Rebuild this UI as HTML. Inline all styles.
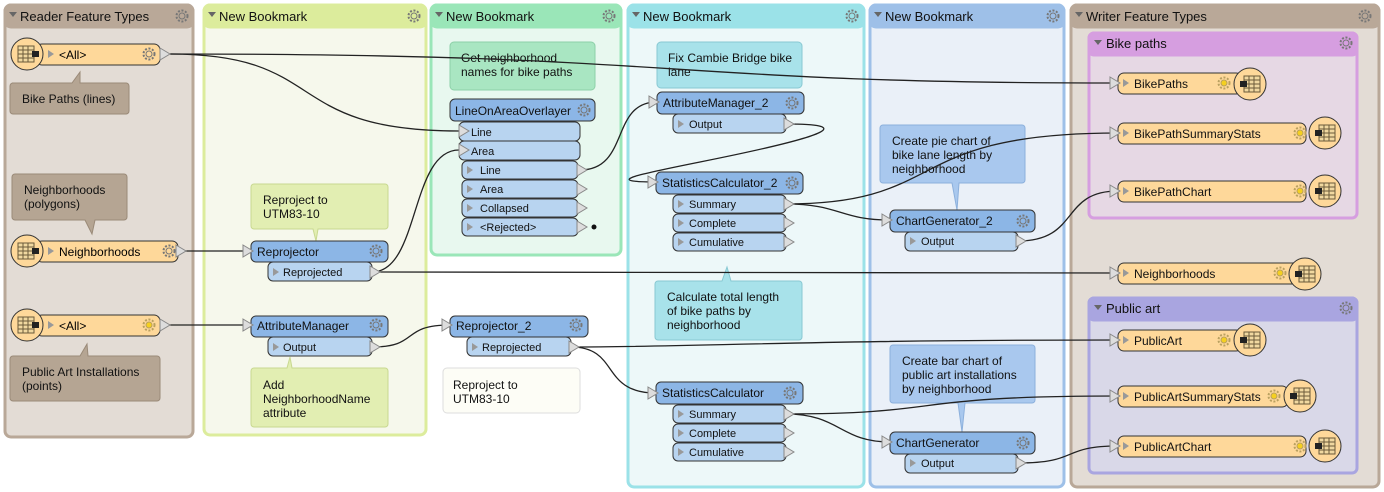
<!DOCTYPE html>
<html><head><meta charset="utf-8"><style>
html,body{margin:0;padding:0;background:#fff;}
svg{display:block;font-family:"Liberation Sans",sans-serif;font-size:12px;}
</style></head><body>
<svg width="1384" height="492" viewBox="0 0 1384 492" xmlns="http://www.w3.org/2000/svg">
<defs>
<g id="gear"><circle r="5.5" fill="none" stroke="#777" stroke-width="2" stroke-dasharray="2 1.6"/><circle r="3" fill="none" stroke="#777" stroke-width="1"/></g>
<g id="gearY"><circle r="5.5" fill="none" stroke="#b9a060" stroke-width="2" stroke-dasharray="2 1.6"/><circle r="3" fill="#f5d020" stroke="#b9a060" stroke-width="1"/></g>
<g id="tbl"><rect x="-8" y="-8" width="16" height="16" fill="#f0d8a0" stroke="#6b5a3a"/><path d="M-8,-4H8M-8,0H8M-8,4H8M-3,-8V8M2,-8V8" stroke="#6b5a3a" stroke-width="1"/></g>
<polygon id="tri" points="0,-6 10,0 0,6" fill="#ddd" stroke="#888"/>
<polygon id="stri" points="0,-4 6,0 0,4" fill="#999"/>
</defs>

<!-- Panels -->
<g stroke-width="3">
<rect x="5" y="5" width="188" height="432" rx="6" fill="#e3dcd5" stroke="#b9a898"/>
<rect x="5" y="5" width="188" height="22" rx="6" fill="#b9a898" stroke="#b9a898"/>
<rect x="204" y="5" width="222" height="430" rx="6" fill="#f6f8ec" stroke="#dcec9c"/>
<rect x="204" y="5" width="222" height="22" rx="6" fill="#dcec9c" stroke="#dcec9c"/>
<rect x="431" y="5" width="190" height="250" rx="6" fill="#e8f8ef" stroke="#9ae6b8"/>
<rect x="431" y="5" width="190" height="22" rx="6" fill="#9ae6b8" stroke="#9ae6b8"/>
<rect x="628" y="5" width="236" height="482" rx="6" fill="#edf8f9" stroke="#9be2e8"/>
<rect x="628" y="5" width="236" height="22" rx="6" fill="#9be2e8" stroke="#9be2e8"/>
<rect x="870" y="5" width="194" height="482" rx="6" fill="#eaf0f8" stroke="#9ec0e8"/>
<rect x="870" y="5" width="194" height="22" rx="6" fill="#9ec0e8" stroke="#9ec0e8"/>
<rect x="1071" y="5" width="308" height="482" rx="6" fill="#e3dcd5" stroke="#b9a898"/>
<rect x="1071" y="5" width="308" height="22" rx="6" fill="#b9a898" stroke="#b9a898"/>
<rect x="1089" y="33" width="268" height="185" rx="5" fill="#e6d8e4" stroke="#d69ee0"/>
<rect x="1089" y="33" width="268" height="22" rx="5" fill="#d69ee0" stroke="#d69ee0"/>
<rect x="1089" y="298" width="268" height="175" rx="5" fill="#d9d8e8" stroke="#a9a5e0"/>
<rect x="1089" y="298" width="268" height="22" rx="5" fill="#a9a5e0" stroke="#a9a5e0"/>
</g>
<g font-size="13" fill="#111">
<text x="20" y="21">Reader Feature Types</text>
<text x="219" y="21">New Bookmark</text>
<text x="446" y="21">New Bookmark</text>
<text x="643" y="21">New Bookmark</text>
<text x="885" y="21">New Bookmark</text>
<text x="1086" y="21">Writer Feature Types</text>
<text x="1106" y="48">Bike paths</text>
<text x="1106" y="313">Public art</text>
</g>
<g fill="#666">
<polygon points="9,12 17,12 13,17"/><polygon points="208,12 216,12 212,17"/><polygon points="435,12 443,12 439,17"/>
<polygon points="632,12 640,12 636,17"/><polygon points="874,12 882,12 878,17"/><polygon points="1075,12 1083,12 1079,17"/>
<polygon points="1094,40 1102,40 1098,45"/><polygon points="1094,305 1102,305 1098,310"/>
</g>
<use href="#gear" x="182" y="16"/><use href="#gear" x="414" y="16"/><use href="#gear" x="609" y="16"/>
<use href="#gear" x="852" y="16"/><use href="#gear" x="1053" y="16"/><use href="#gear" x="1365" y="16"/>
<use href="#gear" x="1346" y="43"/><use href="#gear" x="1346" y="308"/>

<!-- Annotations -->
<g font-size="12" fill="#111">
<path d="M12,83H72L80,72L80,83H126a3,3 0 0 1 3,3V111a3,3 0 0 1 -3,3H13a3,3 0 0 1 -3,-3V86a3,3 0 0 1 3,-3Z" fill="#b5a593" stroke="#9a8a78"/>
<text x="22" y="103">Bike Paths (lines)</text>
<path d="M15,174H124a3,3 0 0 1 3,3V217a3,3 0 0 1 -3,3H95L92,234L85,220H15a3,3 0 0 1 -3,-3V177a3,3 0 0 1 3,-3Z" fill="#b5a593" stroke="#9a8a78"/>
<text x="24" y="194">Neighborhoods</text><text x="24" y="208">(polygons)</text>
<path d="M13,356H80L87,344L88,356H157a3,3 0 0 1 3,3V398a3,3 0 0 1 -3,3H13a3,3 0 0 1 -3,-3V359a3,3 0 0 1 3,-3Z" fill="#b5a593" stroke="#9a8a78"/>
<text x="22" y="376">Public Art Installations</text><text x="22" y="390">(points)</text>

<path d="M254,184H385a3,3 0 0 1 3,3V226a3,3 0 0 1 -3,3H318L316,241L313,229H254a3,3 0 0 1 -3,-3V187a3,3 0 0 1 3,-3Z" fill="#e2eeb2" stroke="#c8d890"/>
<text x="263" y="204">Reproject to</text><text x="263" y="218">UTM83-10</text>
<path d="M254,368H287L290,357L292,368H385a3,3 0 0 1 3,3V424a3,3 0 0 1 -3,3H254a3,3 0 0 1 -3,-3V371a3,3 0 0 1 3,-3Z" fill="#e2eeb2" stroke="#c8d890"/>
<text x="263" y="389">Add</text><text x="263" y="403">NeighborhoodName</text><text x="263" y="417">attribute</text>

<rect x="450" y="42" width="145" height="48" rx="4" fill="#a9e6c2" stroke="#8dd0a8"/>
<text x="461" y="62">Get neighborhood</text><text x="461" y="76">names for bike paths</text>
<rect x="443" y="368" width="137" height="45" rx="4" fill="#fdfdf6" stroke="#ddd"/>
<text x="453" y="389">Reproject to</text><text x="453" y="403">UTM83-10</text>

<rect x="657" y="42" width="145" height="46" rx="4" fill="#a8e2ea" stroke="#88c8d2"/>
<text x="668" y="62">Fix Cambie Bridge bike</text><text x="668" y="76">lane</text>
<path d="M658,281H722L727,267L731,281H799a3,3 0 0 1 3,3V337a3,3 0 0 1 -3,3H658a3,3 0 0 1 -3,-3V284a3,3 0 0 1 3,-3Z" fill="#a8e2ea" stroke="#88c8d2"/>
<text x="667" y="301">Calculate total length</text><text x="667" y="315">of bike paths by</text><text x="667" y="329">neighborhood</text>

<path d="M883,125H1022a3,3 0 0 1 3,3V180a3,3 0 0 1 -3,3H959L957,210L952,183H883a3,3 0 0 1 -3,-3V128a3,3 0 0 1 3,-3Z" fill="#a9c8ee" stroke="#8cb0dc"/>
<text x="892" y="145">Create pie chart of</text><text x="892" y="159">bike lane length by</text><text x="892" y="173">neighborhood</text>
<path d="M893,345H1032a3,3 0 0 1 3,3V400a3,3 0 0 1 -3,3H965L962,432L958,403H893a3,3 0 0 1 -3,-3V348a3,3 0 0 1 3,-3Z" fill="#a9c8ee" stroke="#8cb0dc"/>
<text x="902" y="365">Create bar chart of</text><text x="902" y="379">public art installations</text><text x="902" y="393">by neighborhood</text>
</g>

<!-- Connectors -->
<g fill="none" stroke="#222" stroke-width="1.3">
<path d="M170,54 C700,54 650,83 1118,83"/>
<path d="M170,54 C330,54 280,131 459,131"/>
<path d="M180,251 H251"/>
<path d="M372,272 C420,272 410,150 459,150"/>
<path d="M372,272 L1118,273"/>
<path d="M165,325 H251"/>
<path d="M372,347 C420,347 400,325 450,325"/>
<path d="M580,170 C630,170 610,102 657,102"/>
<path d="M786,124 C850,124 840,134 700,162 C640,174 600,182 656,182"/>
<path d="M786,204 C840,204 840,220 890,220"/>
<path d="M786,204 C950,204 900,133 1118,133"/>
<path d="M1018,241 C1080,241 1060,191 1118,191"/>
<path d="M571,347 C700,347 800,340 1118,340"/>
<path d="M571,347 C620,347 600,393 656,393"/>
<path d="M786,414 C840,414 840,442 890,442"/>
<path d="M786,414 C950,414 900,396 1118,396"/>
<path d="M1018,463 C1080,463 1060,446 1118,446"/>
</g>
<circle cx="594" cy="227" r="2.5" fill="#111"/>

<!-- Reader features -->
<g>
<rect x="36" y="44" width="124" height="21" rx="6" fill="#fed89a" stroke="#333"/>
<use href="#tri" x="160" y="54"/><use href="#stri" x="48" y="54"/>
<text x="59" y="59">&lt;All&gt;</text><use href="#gear" x="149" y="54"/>
<circle cx="27" cy="54" r="16" fill="#fed89a" stroke="#333"/><use href="#tbl" x="26" y="54"/><rect x="32" y="51" width="7" height="6" fill="#222"/>

<rect x="36" y="241" width="142" height="21" rx="6" fill="#fed89a" stroke="#333"/>
<use href="#tri" x="176" y="251"/><use href="#stri" x="48" y="251"/>
<text x="59" y="256">Neighborhoods</text><use href="#gear" x="169" y="251"/>
<circle cx="27" cy="251" r="16" fill="#fed89a" stroke="#333"/><use href="#tbl" x="26" y="251"/><rect x="32" y="248" width="7" height="6" fill="#222"/>

<rect x="36" y="315" width="124" height="21" rx="6" fill="#fed89a" stroke="#333"/>
<use href="#tri" x="160" y="325"/><use href="#stri" x="48" y="325"/>
<text x="59" y="330">&lt;All&gt;</text><use href="#gearY" x="149" y="325"/>
<circle cx="27" cy="325" r="16" fill="#fed89a" stroke="#333"/><use href="#tbl" x="26" y="325"/><rect x="32" y="322" width="7" height="6" fill="#222"/>
</g>

<!-- Transformers -->
<g font-size="12" fill="#111">
<!-- Reprojector -->
<rect x="268" y="262" width="104" height="19" rx="5" fill="#b8d4f0" stroke="#333"/>
<use href="#stri" x="273" y="272"/><text x="283" y="276" font-size="11">Reprojected</text><use href="#tri" x="370" y="272"/>
<rect x="251" y="241" width="137" height="21" rx="5" fill="#8cb6e6" stroke="#333"/>
<use href="#tri" x="243" y="251"/><text x="257" y="256">Reprojector</text><use href="#gear" x="376" y="251"/>
<!-- AttributeManager -->
<rect x="268" y="337" width="104" height="19" rx="5" fill="#b8d4f0" stroke="#333"/>
<use href="#stri" x="273" y="347"/><text x="283" y="351" font-size="11">Output</text><use href="#tri" x="370" y="347"/>
<rect x="251" y="316" width="137" height="21" rx="5" fill="#8cb6e6" stroke="#333"/>
<use href="#tri" x="243" y="325"/><text x="257" y="330">AttributeManager</text><use href="#gear" x="376" y="325"/>
<!-- Reprojector_2 -->
<rect x="467" y="337" width="104" height="19" rx="5" fill="#b8d4f0" stroke="#333"/>
<use href="#stri" x="472" y="347"/><text x="482" y="351" font-size="11">Reprojected</text><use href="#tri" x="569" y="347"/>
<rect x="450" y="316" width="138" height="21" rx="5" fill="#8cb6e6" stroke="#333"/>
<use href="#tri" x="442" y="325"/><text x="456" y="330">Reprojector_2</text><use href="#gear" x="576" y="325"/>
<!-- LineOnAreaOverlayer -->
<rect x="459" y="122" width="121" height="19" rx="5" fill="#b8d4f0" stroke="#333"/>
<use href="#tri" x="459" y="131"/><text x="471" y="136" font-size="11">Line</text>
<rect x="459" y="141" width="121" height="19" rx="5" fill="#b8d4f0" stroke="#333"/>
<use href="#tri" x="459" y="150"/><text x="471" y="155" font-size="11">Area</text>
<g font-size="11">
<rect x="462" y="161" width="116" height="18" rx="5" fill="#b8d4f0" stroke="#333"/><use href="#stri" x="467" y="170"/><text x="480" y="174">Line</text><use href="#tri" x="577" y="170"/>
<rect x="462" y="180" width="116" height="18" rx="5" fill="#b8d4f0" stroke="#333"/><use href="#stri" x="467" y="189"/><text x="480" y="193">Area</text><use href="#tri" x="577" y="189"/>
<rect x="462" y="199" width="116" height="18" rx="5" fill="#b8d4f0" stroke="#333"/><use href="#stri" x="467" y="208"/><text x="480" y="212">Collapsed</text><use href="#tri" x="577" y="208"/>
<rect x="462" y="218" width="116" height="18" rx="5" fill="#b8d4f0" stroke="#333"/><use href="#stri" x="467" y="227"/><text x="480" y="231">&lt;Rejected&gt;</text><use href="#tri" x="577" y="227"/>
</g>
<rect x="450" y="99" width="145" height="22" rx="5" fill="#8cb6e6" stroke="#333"/>
<text x="455" y="115">LineOnAreaOverlayer</text><use href="#gear" x="584" y="110"/>
<!-- AttributeManager_2 -->
<rect x="673" y="114" width="113" height="19" rx="5" fill="#b8d4f0" stroke="#333"/>
<use href="#stri" x="678" y="124"/><text x="689" y="128" font-size="11">Output</text><use href="#tri" x="784" y="124"/>
<rect x="657" y="92" width="147" height="22" rx="5" fill="#8cb6e6" stroke="#333"/>
<use href="#tri" x="649" y="102"/><text x="663" y="107">AttributeManager_2</text><use href="#gear" x="792" y="103"/>
<!-- StatisticsCalculator_2 -->
<g font-size="11">
<rect x="673" y="195" width="113" height="18" rx="5" fill="#b8d4f0" stroke="#333"/><use href="#stri" x="678" y="204"/><text x="689" y="208">Summary</text><use href="#tri" x="784" y="204"/>
<rect x="673" y="214" width="113" height="18" rx="5" fill="#b8d4f0" stroke="#333"/><use href="#stri" x="678" y="223"/><text x="689" y="227">Complete</text><use href="#tri" x="784" y="223"/>
<rect x="673" y="233" width="113" height="18" rx="5" fill="#b8d4f0" stroke="#333"/><use href="#stri" x="678" y="242"/><text x="689" y="246">Cumulative</text><use href="#tri" x="784" y="242"/>
</g>
<rect x="656" y="172" width="147" height="22" rx="5" fill="#8cb6e6" stroke="#333"/>
<use href="#tri" x="648" y="182"/><text x="662" y="187">StatisticsCalculator_2</text><use href="#gear" x="792" y="183"/>
<!-- StatisticsCalculator -->
<g font-size="11">
<rect x="673" y="405" width="113" height="18" rx="5" fill="#b8d4f0" stroke="#333"/><use href="#stri" x="678" y="414"/><text x="689" y="418">Summary</text><use href="#tri" x="784" y="414"/>
<rect x="673" y="424" width="113" height="18" rx="5" fill="#b8d4f0" stroke="#333"/><use href="#stri" x="678" y="433"/><text x="689" y="437">Complete</text><use href="#tri" x="784" y="433"/>
<rect x="673" y="443" width="113" height="18" rx="5" fill="#b8d4f0" stroke="#333"/><use href="#stri" x="678" y="452"/><text x="689" y="456">Cumulative</text><use href="#tri" x="784" y="452"/>
</g>
<rect x="656" y="382" width="147" height="22" rx="5" fill="#8cb6e6" stroke="#333"/>
<use href="#tri" x="648" y="393"/><text x="662" y="397">StatisticsCalculator</text><use href="#gear" x="790" y="393"/>
<!-- ChartGenerator_2 -->
<rect x="905" y="232" width="113" height="19" rx="5" fill="#b8d4f0" stroke="#333"/>
<use href="#stri" x="910" y="241"/><text x="921" y="245" font-size="11">Output</text><use href="#tri" x="1016" y="241"/>
<rect x="890" y="210" width="145" height="22" rx="5" fill="#8cb6e6" stroke="#333"/>
<use href="#tri" x="882" y="220"/><text x="896" y="225">ChartGenerator_2</text><use href="#gear" x="1023" y="221"/>
<!-- ChartGenerator -->
<rect x="905" y="454" width="113" height="19" rx="5" fill="#b8d4f0" stroke="#333"/>
<use href="#stri" x="910" y="463"/><text x="921" y="467" font-size="11">Output</text><use href="#tri" x="1016" y="463"/>
<rect x="890" y="432" width="145" height="22" rx="5" fill="#8cb6e6" stroke="#333"/>
<use href="#tri" x="882" y="442"/><text x="896" y="447">ChartGenerator</text><use href="#gear" x="1023" y="443"/>
</g>

<!-- Writer features -->
<g fill="#111">
<rect x="1118" y="73" width="124" height="21" rx="6" fill="#fed89a" stroke="#333"/><use href="#tri" x="1110" y="83"/><use href="#stri" x="1123" y="83"/>
<text x="1134" y="88">BikePaths</text><use href="#gearY" x="1224" y="83"/>
<circle cx="1250" cy="84" r="16" fill="#fed89a" stroke="#333"/><use href="#tbl" x="1252" y="84"/><rect x="1240" y="81" width="7" height="6" fill="#222"/>

<rect x="1118" y="123" width="188" height="21" rx="6" fill="#fed89a" stroke="#333"/><use href="#tri" x="1110" y="133"/><use href="#stri" x="1123" y="133"/>
<text x="1134" y="138">BikePathSummaryStats</text><use href="#gearY" x="1300" y="133"/>
<circle cx="1325" cy="133" r="16" fill="#fed89a" stroke="#333"/><use href="#tbl" x="1327" y="133"/><rect x="1315" y="130" width="7" height="6" fill="#222"/>

<rect x="1118" y="181" width="188" height="21" rx="6" fill="#fed89a" stroke="#333"/><use href="#tri" x="1110" y="191"/><use href="#stri" x="1123" y="191"/>
<text x="1134" y="196">BikePathChart</text><use href="#gearY" x="1300" y="191"/>
<circle cx="1325" cy="191" r="16" fill="#fed89a" stroke="#333"/><use href="#tbl" x="1327" y="191"/><rect x="1315" y="188" width="7" height="6" fill="#222"/>

<rect x="1118" y="263" width="185" height="21" rx="6" fill="#fed89a" stroke="#333"/><use href="#tri" x="1110" y="273"/><use href="#stri" x="1123" y="273"/>
<text x="1134" y="278">Neighborhoods</text><use href="#gearY" x="1280" y="273"/>
<circle cx="1305" cy="274" r="16" fill="#fed89a" stroke="#333"/><use href="#tbl" x="1307" y="274"/><rect x="1295" y="271" width="7" height="6" fill="#222"/>

<rect x="1118" y="330" width="124" height="21" rx="6" fill="#fed89a" stroke="#333"/><use href="#tri" x="1110" y="340"/><use href="#stri" x="1123" y="340"/>
<text x="1134" y="345">PublicArt</text><use href="#gearY" x="1224" y="340"/>
<circle cx="1250" cy="340" r="16" fill="#fed89a" stroke="#333"/><use href="#tbl" x="1252" y="340"/><rect x="1240" y="337" width="7" height="6" fill="#222"/>

<rect x="1118" y="386" width="170" height="21" rx="6" fill="#fed89a" stroke="#333"/><use href="#tri" x="1110" y="396"/><use href="#stri" x="1123" y="396"/>
<text x="1134" y="401">PublicArtSummaryStats</text><use href="#gearY" x="1274" y="396"/>
<circle cx="1300" cy="396" r="16" fill="#fed89a" stroke="#333"/><use href="#tbl" x="1302" y="396"/><rect x="1290" y="393" width="7" height="6" fill="#222"/>

<rect x="1118" y="436" width="188" height="21" rx="6" fill="#fed89a" stroke="#333"/><use href="#tri" x="1110" y="446"/><use href="#stri" x="1123" y="446"/>
<text x="1134" y="451">PublicArtChart</text><use href="#gearY" x="1300" y="446"/>
<circle cx="1325" cy="446" r="16" fill="#fed89a" stroke="#333"/><use href="#tbl" x="1327" y="446"/><rect x="1315" y="443" width="7" height="6" fill="#222"/>
</g>
</svg>
</body></html>
